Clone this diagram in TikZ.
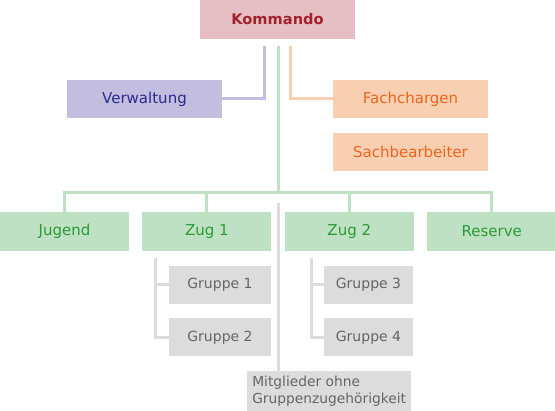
\documentclass[tikz,border=0pt]{standalone}
\usepackage{fontspec}
\setmainfont{DejaVu Sans}
\usetikzlibrary{positioning}
\definecolor{kommfill}{HTML}{E5BFC3}
\definecolor{kommtext}{HTML}{A3202D}
\definecolor{verwfill}{HTML}{C3BEE0}
\definecolor{verwtext}{HTML}{2B2A8C}
\definecolor{fachfill}{HTML}{F8CFB1}
\definecolor{fachtext}{HTML}{E8661E}
\definecolor{zugfill}{HTML}{BEE0C3}
\definecolor{zugtext}{HTML}{2A9B36}
\definecolor{grfill}{HTML}{DCDCDC}
\definecolor{grtext}{HTML}{656565}

\begin{document}
\begin{tikzpicture}[
    x=1pt, y=-1pt,
    box/.style={
        rectangle, inner sep=0pt, align=center,
        font=\fontsize{15}{18}\selectfont
    },
    kommbox/.style={box, fill=kommfill, text=kommtext,
        minimum width=155pt, minimum height=39pt,
        font=\fontsize{14.6}{18}\selectfont\bfseries},
    verwbox/.style={box, fill=verwfill, text=verwtext,
        minimum width=155pt, minimum height=38pt},
    fachbox/.style={box, fill=fachfill, text=fachtext,
        minimum width=155pt, minimum height=38pt},
    zugbox/.style={box, fill=zugfill, text=zugtext,
        minimum width=129pt, minimum height=39pt},
    grbox/.style={box, fill=grfill, text=grtext,
        minimum height=38pt, font=\fontsize{14}{17}\selectfont},
    line/.style={line width=3pt},
    verwline/.style={line, verwfill},
    fachline/.style={line, fachfill},
    zugline/.style={line, zugfill},
    grline/.style={line, grfill}
]
\useasboundingbox (0,0) rectangle (555,411);

% --- Kommando ---
\node[kommbox] (komm) at (277.5,19.5) {Kommando};
\node[verwbox] (verw) at (144.5,99) {Verwaltung};
\node[fachbox] (fach) at (410.5,99) {Fachchargen};
\node[fachbox, below=15pt of fach] (sach) {Sachbearbeiter};

% --- Einheiten ---
\node[zugbox] (jugend) at (64.5,231.5) {Jugend};
\node[zugbox, right=13pt of jugend] (zug1) {Zug 1};
\node[zugbox, right=13pt of zug1] (zug2) {Zug 2};
\node[zugbox, right=13pt of zug2] (reserve) {Reserve};

% --- Gruppen ---
\node[grbox, minimum width=102pt] (gr1) at (220,285) {Gruppe 1};
\node[grbox, minimum width=102pt, below=14pt of gr1] (gr2) {Gruppe 2};
\node[grbox, minimum width=89pt] (gr3) at (368.5,285) {Gruppe 3};
\node[grbox, minimum width=89pt, below=14pt of gr3] (gr4) {Gruppe 4};
\node[grbox, align=left, anchor=south west, minimum width=164pt,
      minimum height=40pt, inner xsep=5pt,
      font=\fontsize{13.8}{17}\selectfont] (ohne) at (247,411)
      {Mitglieder ohne\\Gruppenzugehörigkeit};

\coordinate (bus) at (278,193);

% --- Linien ---
\draw[verwline] ([xshift=-13.5pt,yshift=-7pt]komm.south) |- (verw.east);
\draw[fachline] ([xshift=12.5pt,yshift=-7pt]komm.south) |- (fach.west);
\draw[zugline] ([xshift=0.5pt,yshift=-7pt]komm.south) -- (bus);
\foreach \n in {jugend,zug1,zug2,reserve}
    \draw[zugline] (bus) -| (\n.north);
\draw[grline] ([xshift=13pt,yshift=-7pt]zug1.south west) |- (gr1.west);
\draw[grline] ([xshift=13pt,yshift=-7pt]zug1.south west) |- (gr2.west);
\draw[grline] ([xshift=27pt,yshift=-7pt]zug2.south west) |- (gr3.west);
\draw[grline] ([xshift=27pt,yshift=-7pt]zug2.south west) |- (gr4.west);
\draw[grline] ([yshift=-10pt]bus) -- (bus |- ohne.north);
\end{tikzpicture}
\end{document}
